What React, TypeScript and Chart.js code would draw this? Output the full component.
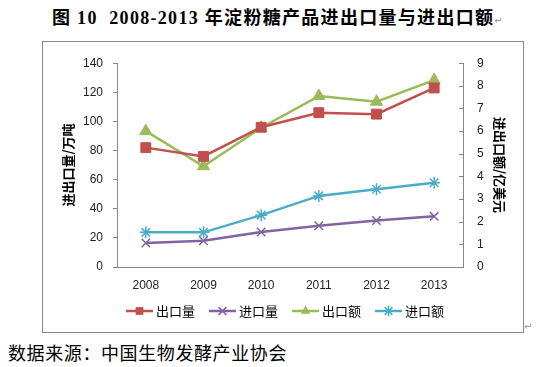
import React, { useEffect, useRef } from "react";
import { Chart, registerables } from "chart.js";

Chart.register(...registerables);

const years = ["2008", "2009", "2010", "2011", "2012", "2013"];
const exportVolume = [82, 76, 96, 106, 105, 123];
const importVolume = [16.5, 18, 24, 28.3, 32, 34.8];
const exportValue = [6.0, 4.45, 6.15, 7.55, 7.3, 8.25];
const importValue = [1.53, 1.53, 2.29, 3.14, 3.43, 3.72];
const seriesNames = ["出口量", "进口量", "出口额", "进口额"];
const leftAxisMax = 140;
const leftAxisStep = 20;
const rightAxisMax = 9;
const rightAxisStep = 1;

const RED = "#C0504D";
const PURPLE = "#8064A2";
const GREEN = "#9BBB59";
const CYAN = "#4BACC6";
const AXIS = "#868686";
const TICK_FONT = { family: "'Liberation Sans', Arial, sans-serif", size: 12 };

const rightTicksPlugin = {
  id: "rightTicks",
  afterDraw(chart: any) {
    const s = chart.scales.y1;
    const ctx = chart.ctx;
    ctx.save();
    ctx.strokeStyle = AXIS;
    ctx.lineWidth = 1;
    s.ticks.forEach((t: any) => {
      const y = Math.round(s.getPixelForValue(t.value)) + 0.5;
      ctx.beginPath();
      ctx.moveTo(s.left - 4, y);
      ctx.lineTo(s.left, y);
      ctx.stroke();
    });
    ctx.restore();
  },
};

function drawMarker(ctx: CanvasRenderingContext2D, style: string, x: number, y: number, r: number) {
  ctx.beginPath();
  if (style === "rect") {
    const s = Math.SQRT1_2 * r;
    ctx.rect(x - s, y - s, 2 * s, 2 * s);
    ctx.fill();
  } else if (style === "triangle") {
    ctx.moveTo(x, y - r);
    ctx.lineTo(x + r * 0.866, y + r / 2);
    ctx.lineTo(x - r * 0.866, y + r / 2);
    ctx.closePath();
    ctx.fill();
  } else if (style === "crossRot") {
    const s = Math.SQRT1_2 * r;
    ctx.moveTo(x - s, y - s);
    ctx.lineTo(x + s, y + s);
    ctx.moveTo(x - s, y + s);
    ctx.lineTo(x + s, y - s);
    ctx.stroke();
  } else if (style === "star") {
    const s = Math.SQRT1_2 * r;
    ctx.moveTo(x - s, y - s);
    ctx.lineTo(x + s, y + s);
    ctx.moveTo(x - s, y + s);
    ctx.lineTo(x + s, y - s);
    ctx.moveTo(x, y - r);
    ctx.lineTo(x, y + r);
    ctx.stroke();
  }
}

const legendPlugin = {
  id: "customLegend",
  afterDraw(chart: any) {
    const ctx = chart.ctx;
    const y = 269;
    const lineLen = 27;
    const gap = 3;
    const itemGap = 14;
    ctx.save();
    ctx.font = "13px 'Noto Sans CJK SC', sans-serif";
    ctx.textBaseline = "middle";
    const items = chart.data.datasets.map((d: any) => ({
      d,
      w: lineLen + gap + ctx.measureText(d.label).width,
    }));
    const total = items.reduce((a: number, b: any) => a + b.w, 0) + itemGap * (items.length - 1);
    let x = chart.width / 2 + 2 - total / 2;
    items.forEach(({ d, w }: any) => {
      ctx.strokeStyle = d.borderColor;
      ctx.lineWidth = 2.5;
      ctx.beginPath();
      ctx.moveTo(x, y);
      ctx.lineTo(x + lineLen, y);
      ctx.stroke();
      ctx.fillStyle = d.backgroundColor;
      ctx.strokeStyle = d.borderColor;
      ctx.lineWidth = 1.5;
      drawMarker(ctx, d.pointStyle, x + lineLen / 2, y, 5.5);
      ctx.fillStyle = "#000";
      ctx.fillText(d.label, x + lineLen + gap, y);
      x += w + itemGap;
    });
    ctx.restore();
  },
};

export default function App() {
  const ref = useRef<HTMLCanvasElement | null>(null);

  useEffect(() => {
    document.body.style.margin = "0";
    if (!ref.current) return;
    const mk = (label: string, data: number[], color: string, style: string, axis: string, radius: number) => ({
      label,
      data,
      borderColor: color,
      backgroundColor: color,
      pointBackgroundColor: color,
      pointBorderColor: color,
      pointStyle: style,
      pointRadius: radius,
      pointBorderWidth: style === "crossRot" || style === "star" ? 1.5 : 1,
      borderWidth: 2.5,
      yAxisID: axis,
      tension: 0,
      fill: false,
    });
    const chart = new Chart(ref.current, {
      type: "line",
      data: {
        labels: years,
        datasets: [
          mk(seriesNames[0], exportVolume, RED, "rect", "y", 7),
          mk(seriesNames[1], importVolume, PURPLE, "crossRot", "y", 6),
          mk(seriesNames[2], exportValue, GREEN, "triangle", "y1", 7),
          mk(seriesNames[3], importValue, CYAN, "star", "y1", 6),
        ] as any,
      },
      options: {
        animation: false,
        responsive: false,
        maintainAspectRatio: false,
        layout: { padding: { top: 17, left: 0, right: 0, bottom: 0 } },
        plugins: {
          legend: { display: false },
          tooltip: { enabled: false },
        },
        scales: {
          x: {
            offset: true,
            grid: { display: false, drawTicks: false },
            border: { display: true, color: AXIS, width: 1 },
            ticks: { font: TICK_FONT, color: "#222", padding: 11, maxRotation: 0 },
            afterFit: (s: any) => {
              s.height = 65;
            },
          },
          y: {
            position: "left",
            min: 0,
            max: leftAxisMax,
            ticks: { stepSize: leftAxisStep, font: TICK_FONT, color: "#222", padding: 10 },
            grid: { display: true, drawOnChartArea: false, drawTicks: true, tickLength: 4, color: AXIS },
            border: { display: true, color: AXIS, width: 1 },
            title: {
              display: true,
              text: "进出口量/万吨",
              font: { family: "'Noto Sans CJK SC', sans-serif", size: 13, weight: "bold" },
              color: "#000",
              padding: { top: 17, bottom: 0 },
            },
            afterFit: (s: any) => {
              s.width = 74;
            },
          },
          y1: {
            position: "right",
            min: 0,
            max: rightAxisMax,
            ticks: { stepSize: rightAxisStep, font: TICK_FONT, color: "#222", padding: 14 },
            grid: { display: false, drawOnChartArea: false, drawTicks: false },
            border: { display: true, color: AXIS, width: 1 },
            title: {
              display: true,
              text: "进出口额/亿美元",
              font: { family: "'Noto Sans CJK SC', sans-serif", size: 13, weight: "bold" },
              color: "#000",
              padding: { top: 15, bottom: 0 },
            },
            afterFit: (s: any) => {
              s.width = 60;
            },
          },
        },
      } as any,
      plugins: [rightTicksPlugin, legendPlugin],
    });
    return () => chart.destroy();
  }, []);

  return (
    <div style={{ position: "fixed", left: 0, top: 0, width: 546, height: 367, background: "#fff", overflow: "hidden" }}>
      <div
        style={{
          position: "absolute",
          left: 52,
          top: 7,
          fontFamily: "'Liberation Serif', 'Noto Sans CJK SC', serif",
          fontWeight: "bold",
          fontSize: 18,
          lineHeight: "22px",
          letterSpacing: 1.3,
          whiteSpace: "nowrap",
          color: "#000",
        }}
      >
        图 10&nbsp; 2008-2013 年淀粉糖产品进出口量与进出口额
        <span style={{ fontSize: 10, color: "#999", fontWeight: "normal", fontFamily: "'DejaVu Sans'" }}>↵</span>
      </div>
      <div
        style={{
          position: "absolute",
          left: 42,
          top: 41,
          width: 480,
          height: 290,
          border: "1px solid #888",
        }}
      >
        <canvas ref={ref} width={480} height={290} style={{ display: "block", width: 480, height: 290 }} />
      </div>
      <div style={{ position: "absolute", left: 524, top: 321, fontSize: 10, color: "#999", fontFamily: "'DejaVu Sans'" }}>↵</div>
      <div
        style={{
          position: "absolute",
          left: 8,
          top: 340,
          fontFamily: "'Noto Sans CJK SC', sans-serif",
          fontSize: 18,
          lineHeight: "24px",
          letterSpacing: 0.6,
          whiteSpace: "nowrap",
          color: "#000",
        }}
      >
        数据来源：中国生物发酵产业协会
      </div>
    </div>
  );
}
